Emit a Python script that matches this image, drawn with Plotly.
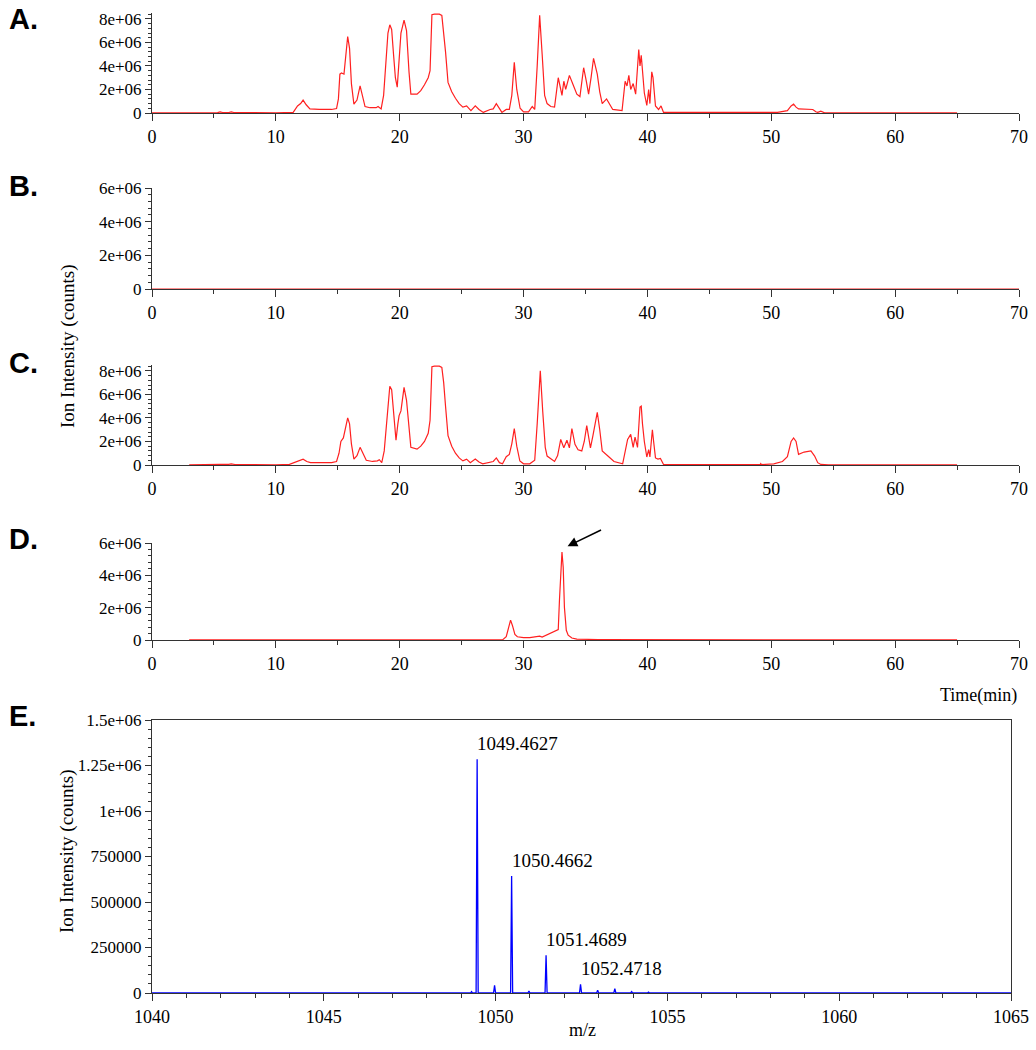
import numpy as np
import plotly.graph_objects as go

W, H = 1036, 1050

# ---------------- data (intensity in millions of counts for chromatograms) ----------------
chrom_a = [
    (0, 0.02), (3, 0.03), (5.3, 0.03), (5.5, 0.1), (5.7, 0.04), (6.2, 0.04), (6.4, 0.1), (6.6, 0.04),
    (8, 0.02), (10, 0.02), (11.4, 0.05), (11.75, 0.6), (12.0, 0.8), (12.2, 1.1), (12.45, 0.7),
    (12.75, 0.35), (13.5, 0.3), (14.5, 0.3), (14.9, 0.38), (15.05, 1.2), (15.17, 3.3), (15.3, 3.4),
    (15.5, 3.3), (15.65, 5.2), (15.8, 6.5), (15.95, 5.5), (16.1, 2.5), (16.3, 0.75), (16.55, 1.1),
    (16.8, 2.3), (17.0, 1.4), (17.2, 0.55), (17.6, 0.45), (18.1, 0.45), (18.25, 0.55), (18.5, 0.35),
    (18.7, 1.5), (18.9, 4.5), (19.05, 6.8), (19.2, 7.5), (19.35, 7.1), (19.5, 5.0), (19.65, 3.0),
    (19.8, 2.2), (19.95, 5.0), (20.1, 6.8), (20.35, 7.9), (20.55, 7.0), (20.75, 3.5), (20.9, 1.6),
    (21.4, 1.6), (21.7, 1.9), (22.0, 2.4), (22.3, 3.0), (22.45, 3.6), (22.6, 8.35), (22.8, 8.4),
    (23.2, 8.4), (23.4, 8.3), (23.55, 7.0), (23.7, 5.2), (23.9, 2.6), (24.2, 1.8), (24.5, 1.25),
    (24.8, 0.8), (25.1, 0.5), (25.4, 0.6), (25.75, 0.2), (26.1, 0.6), (26.4, 0.3), (26.75, 0.05),
    (27.3, 0.3), (27.55, 0.35), (27.8, 0.8), (28.0, 0.5), (28.25, 0.05), (28.6, 0.3), (28.85, 0.3),
    (29.05, 1.5), (29.25, 4.3), (29.45, 2.0), (29.72, 0.4), (30.0, 0.1), (30.4, 0.1), (30.7, 0.55),
    (30.9, 0.3), (31.1, 4.0), (31.3, 8.3), (31.5, 5.0), (31.7, 1.5), (31.9, 0.8), (32.2, 0.55),
    (32.5, 0.5), (32.8, 3.0), (33.1, 1.5), (33.25, 2.7), (33.4, 2.0), (33.7, 3.2), (34.0, 2.4),
    (34.3, 1.6), (34.55, 1.4), (34.85, 3.85), (35.05, 2.8), (35.25, 1.6), (35.45, 3.0), (35.65, 4.65),
    (35.95, 3.3), (36.15, 1.8), (36.35, 0.8), (36.7, 1.2), (37.2, 0.3), (37.95, 0.2), (38.2, 2.7),
    (38.35, 2.3), (38.5, 3.2), (38.65, 2.0), (38.85, 2.5), (39.05, 1.6), (39.3, 5.4), (39.4, 4.0),
    (39.5, 4.9), (39.6, 3.5), (39.75, 1.7), (39.95, 0.65), (40.1, 2.0), (40.2, 0.8), (40.35, 3.5),
    (40.45, 3.0), (40.65, 0.6), (40.9, 0.3), (41.1, 0.6), (41.3, 0.05), (43, 0.04), (45, 0.03),
    (47, 0.04), (49, 0.03), (50.5, 0.05), (51.3, 0.2), (51.6, 0.6), (51.8, 0.75), (52.0, 0.5),
    (52.2, 0.35), (52.6, 0.35), (53.0, 0.35), (53.35, 0.3), (53.6, 0.1), (53.75, 0.05), (54.0, 0.15),
    (54.3, 0.02), (56, 0.01), (60, 0.01), (65, 0.01),
]

chrom_b = [(0, 0.0), (70, 0.0)]

chrom_c = [
    (3.0, 0.02), (5.0, 0.05), (5.2, 0.1), (5.5, 0.05), (6.2, 0.05), (6.4, 0.1), (6.7, 0.04), (8, 0.02),
    (10, 0.02), (11.1, 0.05), (11.7, 0.3), (12.2, 0.5), (12.5, 0.3), (12.8, 0.2), (14.5, 0.2),
    (14.9, 0.3), (15.1, 1.0), (15.25, 2.0), (15.45, 2.3), (15.65, 3.2), (15.8, 4.0), (15.95, 3.5),
    (16.1, 1.8), (16.3, 0.5), (16.55, 0.8), (16.8, 1.5), (17.0, 1.0), (17.3, 0.4), (17.8, 0.3),
    (18.2, 0.35), (18.35, 0.45), (18.55, 0.2), (18.75, 1.2), (18.95, 4.0), (19.2, 6.7), (19.35, 6.4),
    (19.5, 4.5), (19.7, 2.1), (19.85, 3.5), (19.95, 4.2), (20.1, 4.6), (20.35, 6.6), (20.55, 5.5),
    (20.75, 3.0), (20.9, 1.5), (21.4, 1.35), (21.7, 1.6), (22.0, 2.0), (22.3, 2.7), (22.45, 3.8),
    (22.6, 8.35), (22.8, 8.4), (23.2, 8.4), (23.4, 8.3), (23.55, 7.0), (23.7, 5.0), (23.9, 2.5),
    (24.2, 1.6), (24.5, 1.0), (24.8, 0.6), (25.1, 0.35), (25.4, 0.5), (25.7, 0.2), (26.1, 0.5),
    (26.4, 0.25), (26.7, 0.1), (27.3, 0.2), (27.55, 0.3), (27.8, 0.6), (28.05, 0.2), (28.3, 0.1),
    (28.6, 0.7), (28.85, 0.9), (29.05, 1.8), (29.25, 3.1), (29.45, 1.6), (29.7, 0.34), (30.0, 0.1),
    (30.5, 0.1), (30.9, 0.4), (31.1, 3.5), (31.35, 8.0), (31.55, 4.5), (31.75, 1.5), (31.9, 0.76),
    (32.5, 0.3), (32.75, 0.8), (33.0, 2.17), (33.25, 1.46), (33.5, 2.1), (33.7, 1.46), (33.9, 3.1),
    (34.15, 1.75), (34.4, 1.3), (34.7, 1.2), (34.9, 2.0), (35.1, 3.35), (35.4, 1.46), (35.6, 2.5),
    (35.95, 4.48), (36.15, 3.0), (36.35, 1.2), (36.9, 0.68), (37.3, 0.3), (38.0, 0.1), (38.2, 1.0),
    (38.4, 2.17), (38.65, 2.6), (38.85, 1.5), (39.0, 2.37), (39.2, 1.5), (39.4, 4.93), (39.5, 5.0),
    (39.6, 3.5), (39.75, 2.0), (39.95, 0.68), (40.1, 1.3), (40.2, 0.68), (40.4, 3.0), (40.5, 2.0),
    (40.65, 0.6), (40.85, 0.5), (41.05, 0.56), (41.3, 0.05), (43, 0.05), (45, 0.04), (47, 0.05),
    (49.1, 0.03), (49.15, 0.12), (49.2, 0.03), (50.2, 0.1), (50.9, 0.3), (51.3, 0.7), (51.6, 2.0),
    (51.8, 2.3), (52.0, 2.0), (52.2, 0.9), (52.65, 1.1), (53.2, 1.2), (53.5, 0.76), (53.75, 0.2),
    (54.0, 0.05), (54.6, 0.02), (60, 0.01), (65, 0.01),
]

chrom_d = [
    (3.0, 0.01), (10, 0.01), (20, 0.01), (28.3, 0.01), (28.6, 0.2), (28.8, 0.9), (28.95, 1.23),
    (29.1, 0.9), (29.3, 0.35), (29.5, 0.2), (30.0, 0.15), (30.5, 0.15), (31.0, 0.2), (31.3, 0.24),
    (31.5, 0.18), (31.7, 0.25), (32.0, 0.34), (32.3, 0.45), (32.6, 0.54), (32.8, 0.64), (32.9, 2.5),
    (33.0, 4.6), (33.1, 5.44), (33.2, 4.5), (33.3, 2.0), (33.45, 0.6), (33.6, 0.3), (33.9, 0.12),
    (34.3, 0.05), (36, 0.03), (40, 0.02), (50, 0.01), (65, 0.01),
]

# mass spectrum (panel E)
mz_peaks = [1049.30, 1049.4627, 1049.97, 1050.4662, 1050.97, 1051.4689, 1051.97, 1052.4718,
            1052.97, 1053.47, 1053.96, 1054.45]
mz_heights = [8000, 1285000, 42000, 643000, 10000, 207000, 4000, 48000, 15000, 24000, 8000, 5000]
label_mz = [1049.4627, 1050.4662, 1051.4689, 1052.4718]
label_height = [1285000, 643000, 207000, 48000]

time_ticks = [0, 10, 20, 30, 40, 50, 60, 70]
mz_ticks = [1040, 1045, 1050, 1055, 1060, 1065]
y_ticks_8 = [0, 2e6, 4e6, 6e6, 8e6]
y_text_8 = ["0", "2e+06", "4e+06", "6e+06", "8e+06"]
y_ticks_6 = [0, 2e6, 4e6, 6e6]
y_text_6 = ["0", "2e+06", "4e+06", "6e+06"]
y_ticks_e = [0, 250000, 500000, 750000, 1000000, 1250000, 1500000]
y_text_e = ["0", "250000", "500000", "750000", "1e+06", "1.25e+06", "1.5e+06"]

# ---------------- figure ----------------
SERIF = "Liberation Serif, Times New Roman, serif"
SANS = "Liberation Sans, Arial, sans-serif"
AX = "#333333"
RED = "#ff2020"
BLUE = "#0000ff"


def px(x):
    return x / W


def py(y):
    return 1 - y / H


fig = go.Figure()

chroms = [chrom_a, chrom_b, chrom_c, chrom_d]
for i, ch in enumerate(chroms):
    t = [p[0] for p in ch]
    v = [p[1] * 1e6 for p in ch]
    fig.add_trace(go.Scatter(x=t, y=v, mode="lines", line=dict(color=RED, width=1.2),
                             xaxis="x" if i == 0 else f"x{i+1}",
                             yaxis="y" if i == 0 else f"y{i+1}",
                             showlegend=False, hoverinfo="skip"))

# stick spectrum built from peak list
sx, sy = [1040.0], [0.0]
for m, h in zip(mz_peaks, mz_heights):
    sx += [m - 0.03, m, m + 0.03]
    sy += [0.0, h, 0.0]
sx.append(1065.0)
sy.append(0.0)
fig.add_trace(go.Scatter(x=sx, y=sy, mode="lines", line=dict(color=BLUE, width=1.3),
                         xaxis="x5", yaxis="y5", showlegend=False, hoverinfo="skip"))

tickfont_y = dict(family=SERIF, size=17, color="black")
tickfont_x = dict(family=SERIF, size=18, color="black")

# pixel layout of each panel: (bottom px, top px, y max, y ticks, y texts)
panels = [
    (113, 13, 8.5e6, y_ticks_8, y_text_8),
    (289, 188, 6e6, y_ticks_6, y_text_6),
    (465, 365, 8.5e6, y_ticks_8, y_text_8),
    (640, 543, 6e6, y_ticks_6, y_text_6),
]

layout = dict(
    width=W, height=H, margin=dict(l=0, r=0, t=0, b=0), template="none",
    paper_bgcolor="white", plot_bgcolor="rgba(0,0,0,0)", showlegend=False,
)

for i, (bot, top, ymax, yt, ytt) in enumerate(panels):
    xn = "xaxis" if i == 0 else f"xaxis{i+1}"
    yn = "yaxis" if i == 0 else f"yaxis{i+1}"
    xa = "x" if i == 0 else f"x{i+1}"
    ya = "y" if i == 0 else f"y{i+1}"
    layout[xn] = dict(
        domain=[px(152), px(1019)], range=[0, 70], anchor=ya, showline=True, linecolor=AX,
        linewidth=1, showgrid=False, zeroline=False, tickmode="array", tickvals=time_ticks,
        ticks="outside", ticklen=7, tickcolor=AX, tickfont=tickfont_x, automargin=False,
        minor=dict(tickmode="linear", tick0=0, dtick=5, ticks="outside", ticklen=4, tickcolor=AX),
        fixedrange=True,
    )
    layout[yn] = dict(
        domain=[py(bot), py(top)], range=[0, ymax], anchor=xa, showline=True, linecolor=AX,
        linewidth=1, showgrid=False, zeroline=False, tickmode="array", tickvals=yt, ticktext=ytt,
        ticks="outside", ticklen=6, tickcolor=AX, tickfont=tickfont_y, automargin=False,
        minor=dict(tickmode="linear", tick0=0, dtick=4e5, ticks="outside", ticklen=3, tickcolor=AX),
        fixedrange=True,
    )

layout["xaxis5"] = dict(
    domain=[px(152), px(1011)], range=[1040, 1065], anchor="y5", showline=True, linecolor=AX,
    linewidth=1, mirror=True, showgrid=False, zeroline=False, tickmode="array", tickvals=mz_ticks,
    ticks="outside", ticklen=7, tickcolor=AX, tickfont=tickfont_x, automargin=False,
    minor=dict(tickmode="linear", tick0=1040, dtick=1, ticks="outside", ticklen=4, tickcolor=AX),
    fixedrange=True,
)
layout["yaxis5"] = dict(
    domain=[py(993), py(720)], range=[0, 1.5e6], anchor="x5", showline=True, linecolor=AX,
    linewidth=1, mirror=True, showgrid=False, zeroline=False, tickmode="array", tickvals=y_ticks_e,
    ticktext=y_text_e, ticks="outside", ticklen=6, tickcolor=AX, tickfont=tickfont_y,
    automargin=False,
    minor=dict(tickmode="linear", tick0=0, dtick=50000, ticks="outside", ticklen=3, tickcolor=AX),
    fixedrange=True,
)

annotations = []
for letter, yc in zip(["A.", "B.", "C.", "D.", "E."], [19, 186, 363, 539, 716]):
    annotations.append(dict(text=f"<b>{letter}</b>", x=px(7), y=py(yc), xref="paper", yref="paper",
                            xanchor="left", yanchor="middle", showarrow=False,
                            font=dict(family=SANS, size=29, color="black")))

annotations.append(dict(text="Ion Intensity (counts)", x=px(68), y=py(346), xref="paper", yref="paper",
                        textangle=-90, showarrow=False, xanchor="center", yanchor="middle",
                        font=dict(family=SERIF, size=19, color="black")))
annotations.append(dict(text="Ion Intensity (counts)", x=px(67), y=py(851), xref="paper", yref="paper",
                        textangle=-90, showarrow=False, xanchor="center", yanchor="middle",
                        font=dict(family=SERIF, size=19, color="black")))
annotations.append(dict(text="Time(min)", x=px(1019), y=py(695), xref="paper", yref="paper",
                        xanchor="right", yanchor="middle", showarrow=False,
                        font=dict(family=SERIF, size=18, color="black")))
annotations.append(dict(text="m/z", x=px(582), y=py(1030), xref="paper", yref="paper",
                        xanchor="center", yanchor="middle", showarrow=False,
                        font=dict(family=SERIF, size=18, color="black")))

for m, h in zip(label_mz, label_height):
    annotations.append(dict(text=f"{m:.4f}", x=m, y=h, xref="x5", yref="y5", xanchor="left",
                            yanchor="bottom", xshift=-2, yshift=3, showarrow=False,
                            font=dict(family=SERIF, size=19, color="black")))

annotations.append(dict(text="", x=33.55, y=5.8e6, xref="x4", yref="y4", ax=35, ay=-17,
                        showarrow=True, arrowhead=2, arrowsize=1.3, arrowwidth=1.5,
                        arrowcolor="black"))

layout["annotations"] = annotations
fig.update_layout(**layout)

fig.write_html("out.html", config={"displayModeBar": False, "staticPlot": True},
               post_script="document.body.style.margin='0';")
